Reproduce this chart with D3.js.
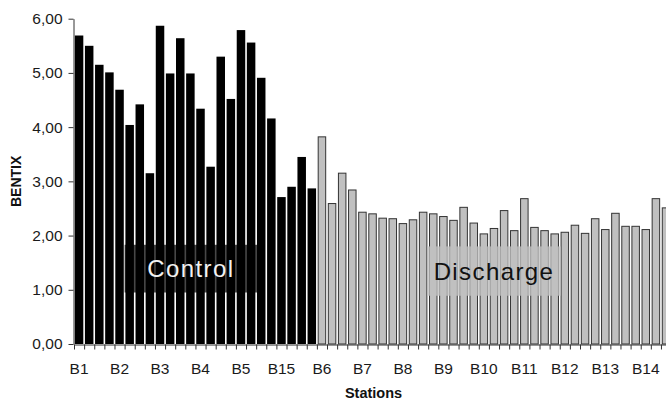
<!DOCTYPE html>
<html>
<head>
<meta charset="utf-8">
<script src="https://cdn.jsdelivr.net/npm/d3@7"></script>
<style>
  html, body { margin: 0; padding: 0; background: #fff; overflow: hidden; }
  svg { display: block; font-family: "Liberation Sans", Arial, sans-serif; }
</style>
</head>
<body>
<svg id="chart" width="666" height="400"></svg>
<script>
// BENTIX index per sampling point, 4 samples per station
const stations = ["B1", "B2", "B3", "B4", "B5", "B15", "B6", "B7", "B8", "B9", "B10", "B11", "B12", "B13", "B14"];
const samplesPerStation = 4;
const controlValues = [
  5.69, 5.50, 5.15, 5.01, 4.69, 4.04, 4.42, 3.15,
  5.87, 4.99, 5.64, 4.99, 4.34, 3.27, 5.30, 4.52,
  5.79, 5.56, 4.91, 4.16, 2.71, 2.90, 3.45, 2.87
];
const dischargeValues = [
  3.83, 2.60, 3.16, 2.85, 2.44, 2.41, 2.33, 2.32,
  2.23, 2.30, 2.44, 2.41, 2.36, 2.29, 2.53, 2.24,
  2.04, 2.14, 2.47, 2.10, 2.69, 2.16, 2.10, 2.04,
  2.07, 2.20, 2.05, 2.32, 2.12, 2.42, 2.18, 2.18,
  2.12, 2.69, 2.52
];
const yTicks = [0, 1, 2, 3, 4, 5, 6];

(() => {
  const svg = d3.select("#chart");
  const left = 74, plotTop = 18.7, bottom = 344;
  const nSlots = stations.length * samplesPerStation;
  const pitch = 10.12; // plot runs past the right edge, as in the cropped original

  const slots = d3.range(nSlots);
  const edge = d3.scaleLinear().domain([0, nSlots]).range([left, left + nSlots * pitch]);
  const pad = 0.16;
  const x = d3.scaleBand().domain(slots).range(edge.range()).paddingInner(pad).paddingOuter(pad / 2);
  const y = d3.scaleLinear().domain([0, 6]).range([bottom, plotTop]);

  const bars = controlValues.map((v, i) => ({ i, v, group: "control" }))
    .concat(dischargeValues.map((v, i) => ({ i: controlValues.length + i, v, group: "discharge" })));

  svg.append("g")
    .selectAll("rect")
    .data(bars)
    .join("rect")
    .attr("x", d => x(d.i) + (d.group === "discharge" ? 0.5 : 0))
    .attr("y", d => y(d.v) + (d.group === "discharge" ? 0.5 : 0))
    .attr("width", d => x.bandwidth() - (d.group === "discharge" ? 1 : 0))
    .attr("height", d => bottom - y(d.v) - (d.group === "discharge" ? 0.5 : 0))
    .attr("fill", d => d.group === "control" ? "#000" : "#c0c0c0")
    .attr("stroke", d => d.group === "control" ? "none" : "#333")
    .attr("stroke-width", 1);

  // annotation boxes
  const notes = [
    { text: "Control", from: 5, to: 18.1, lo: 0.95, hi: 1.83, fill: "#000", op: 0.72, color: "#f2f2f2" },
    { text: "Discharge", from: 34.9, to: 48.1, lo: 0.89, hi: 1.80, fill: "#c0c0c0", op: 0.78, color: "#111" }
  ];
  const ng = svg.append("g").selectAll("g").data(notes).join("g");
  ng.append("rect")
    .attr("x", d => edge(d.from))
    .attr("y", d => y(d.hi))
    .attr("width", d => edge(d.to) - edge(d.from))
    .attr("height", d => y(d.lo) - y(d.hi))
    .attr("fill", d => d.fill)
    .attr("fill-opacity", d => d.op);
  ng.append("text")
    .attr("x", d => (edge(d.from) + edge(d.to)) / 2)
    .attr("y", d => (y(d.lo) + y(d.hi)) / 2 + 8.5)
    .attr("text-anchor", "middle")
    .attr("font-size", 24)
    .attr("letter-spacing", 1.4)
    .attr("fill", d => d.color)
    .text(d => d.text);

  // y axis
  const yAxis = svg.append("g")
    .attr("transform", `translate(${left - 0.5},0)`)
    .call(d3.axisLeft(y).tickValues(yTicks).tickSize(5).tickSizeOuter(0).tickPadding(6)
      .tickFormat(d => d.toFixed(2).replace(".", ",")));

  // x axis: a tick at every bar boundary, a label under the first bar of each station
  const xAxis = svg.append("g")
    .attr("transform", `translate(0,${bottom + 0.5})`)
    .call(d3.axisBottom(edge).tickValues(d3.range(nSlots + 1)).tickSize(5).tickSizeOuter(0).tickFormat(""));

  svg.append("g")
    .selectAll("text")
    .data(stations)
    .join("text")
    .attr("x", (d, k) => x(k * samplesPerStation) + x.bandwidth() / 2)
    .attr("y", 373.5)
    .attr("text-anchor", "middle")
    .attr("font-size", 15.5)
    .attr("fill", "#1a1a1a")
    .text(d => d);

  [yAxis, xAxis].forEach(g => {
    g.selectAll(".domain, line").attr("stroke", "#333");
    g.selectAll("text").attr("font-size", 15.5).attr("fill", "#1a1a1a")
      .attr("font-family", "'Liberation Sans', Arial, sans-serif");
  });

  svg.append("text")
    .attr("transform", `translate(21,${(plotTop + bottom) / 2}) rotate(-90)`)
    .attr("text-anchor", "middle")
    .attr("font-size", 14)
    .attr("font-weight", "bold")
    .attr("fill", "#111")
    .text("BENTIX");

  svg.append("text")
    .attr("x", 373.5)
    .attr("y", 397.5)
    .attr("text-anchor", "middle")
    .attr("font-size", 14.5)
    .attr("font-weight", "bold")
    .attr("fill", "#111")
    .text("Stations");
})();
</script>
</body>
</html>
